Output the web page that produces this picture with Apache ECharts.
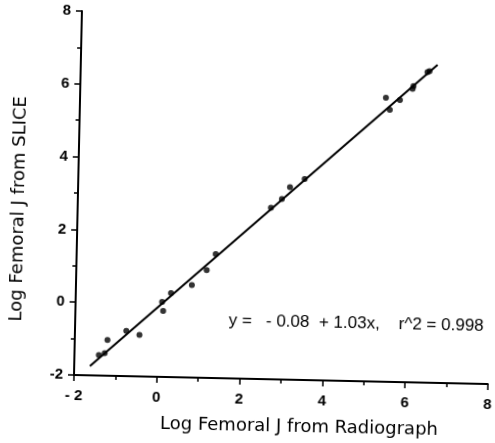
<!DOCTYPE html>
<html>
<head>
<meta charset="utf-8">
<script src="https://cdn.jsdelivr.net/npm/echarts@6/dist/echarts.min.js"></script>
<style>
  html, body { margin: 0; padding: 0; background: #fff; }
  #chart { width: 495px; height: 443px; transform: rotate(1.25deg); transform-origin: 74px 375px; }
</style>
</head>
<body>
<div id="chart"></div>
<script>
// Data
const radiographX = [-1.41, -1.27, -1.21, -0.76, -0.44, 0.09, 0.12, 0.30, 0.80, 1.15, 1.36, 2.67, 2.93, 3.12, 3.47, 5.39, 5.49, 5.73, 6.03, 6.05, 6.38, 6.43];
const sliceY      = [-1.44, -1.38, -1.02, -0.76, -0.86, 0.06, -0.19, 0.31, 0.54, 0.96, 1.41, 2.71, 2.96, 3.29, 3.52, 5.80, 5.47, 5.75, 6.06, 6.14, 6.53, 6.56];
const fitIntercept = -0.08;
const fitSlope = 1.03;
const fitRangeX = [-1.62, 6.62];
const xTicks = [-2, 0, 2, 4, 6, 8];
const yTicks = [-2, 0, 2, 4, 6, 8];
const xTitle = 'Log Femoral J from Radiograph';
const yTitle = 'Log Femoral J from SLICE';
const annotation = 'y =   - 0.08  + 1.03x,    r^2 = 0.998';

const points = radiographX.map((x, i) => [x, sliceY[i]]);
const fitLine = fitRangeX.map(x => [x, fitIntercept + fitSlope * x]);

const chart = echarts.init(document.getElementById('chart'), null, { renderer: 'canvas' });
const axisCommon = {
  type: 'value', min: -2, max: 8, interval: 2,
  axisLine: { show: true, onZero: false, lineStyle: { color: '#000', width: 2 } },
  axisTick: { show: true, length: 6, lineStyle: { color: '#000', width: 1.5 } },
  minorTick: { show: true, splitNumber: 2, length: 4, lineStyle: { color: '#000', width: 1.5 } },
  splitLine: { show: false },
  minorSplitLine: { show: false }
};
chart.setOption({
  animation: false,
  backgroundColor: '#fff',
  grid: { left: 74, top: 11, width: 418, height: 364, containLabel: false },
  xAxis: Object.assign({}, axisCommon, {
    axisLabel: {
      margin: 13, fontSize: 15, fontWeight: 'bold', color: '#000', fontFamily: 'Liberation Sans',
      formatter: v => (xTicks.includes(v) ? (v < 0 ? '- ' + Math.abs(v) : String(v)) : '')
    }
  }),
  yAxis: Object.assign({}, axisCommon, {
    axisLabel: {
      margin: 11, fontSize: 15, fontWeight: 'bold', color: '#000', fontFamily: 'Liberation Sans',
      formatter: v => (yTicks.includes(v) ? String(v) : '')
    }
  }),
  series: [
    { type: 'line', data: fitLine, showSymbol: false, lineStyle: { color: '#000', width: 2 }, z: 2 },
    { type: 'scatter', data: points, symbolSize: 6, itemStyle: { color: '#000' }, z: 3 }
  ],
  graphic: [
    { type: 'text', x: 300, y: 422, style: { text: xTitle, font: '18px "DejaVu Sans"', fill: '#000', align: 'center', verticalAlign: 'middle' } },
    { type: 'text', x: 15, y: 210, rotation: Math.PI / 2, style: { text: yTitle, font: '18px "DejaVu Sans"', fill: '#000', align: 'center', verticalAlign: 'middle' } },
    { type: 'text', x: 355, y: 317, style: { text: annotation, font: '17px "Liberation Sans"', fill: '#000', align: 'center', verticalAlign: 'middle' } }
  ]
});
</script>
</body>
</html>
